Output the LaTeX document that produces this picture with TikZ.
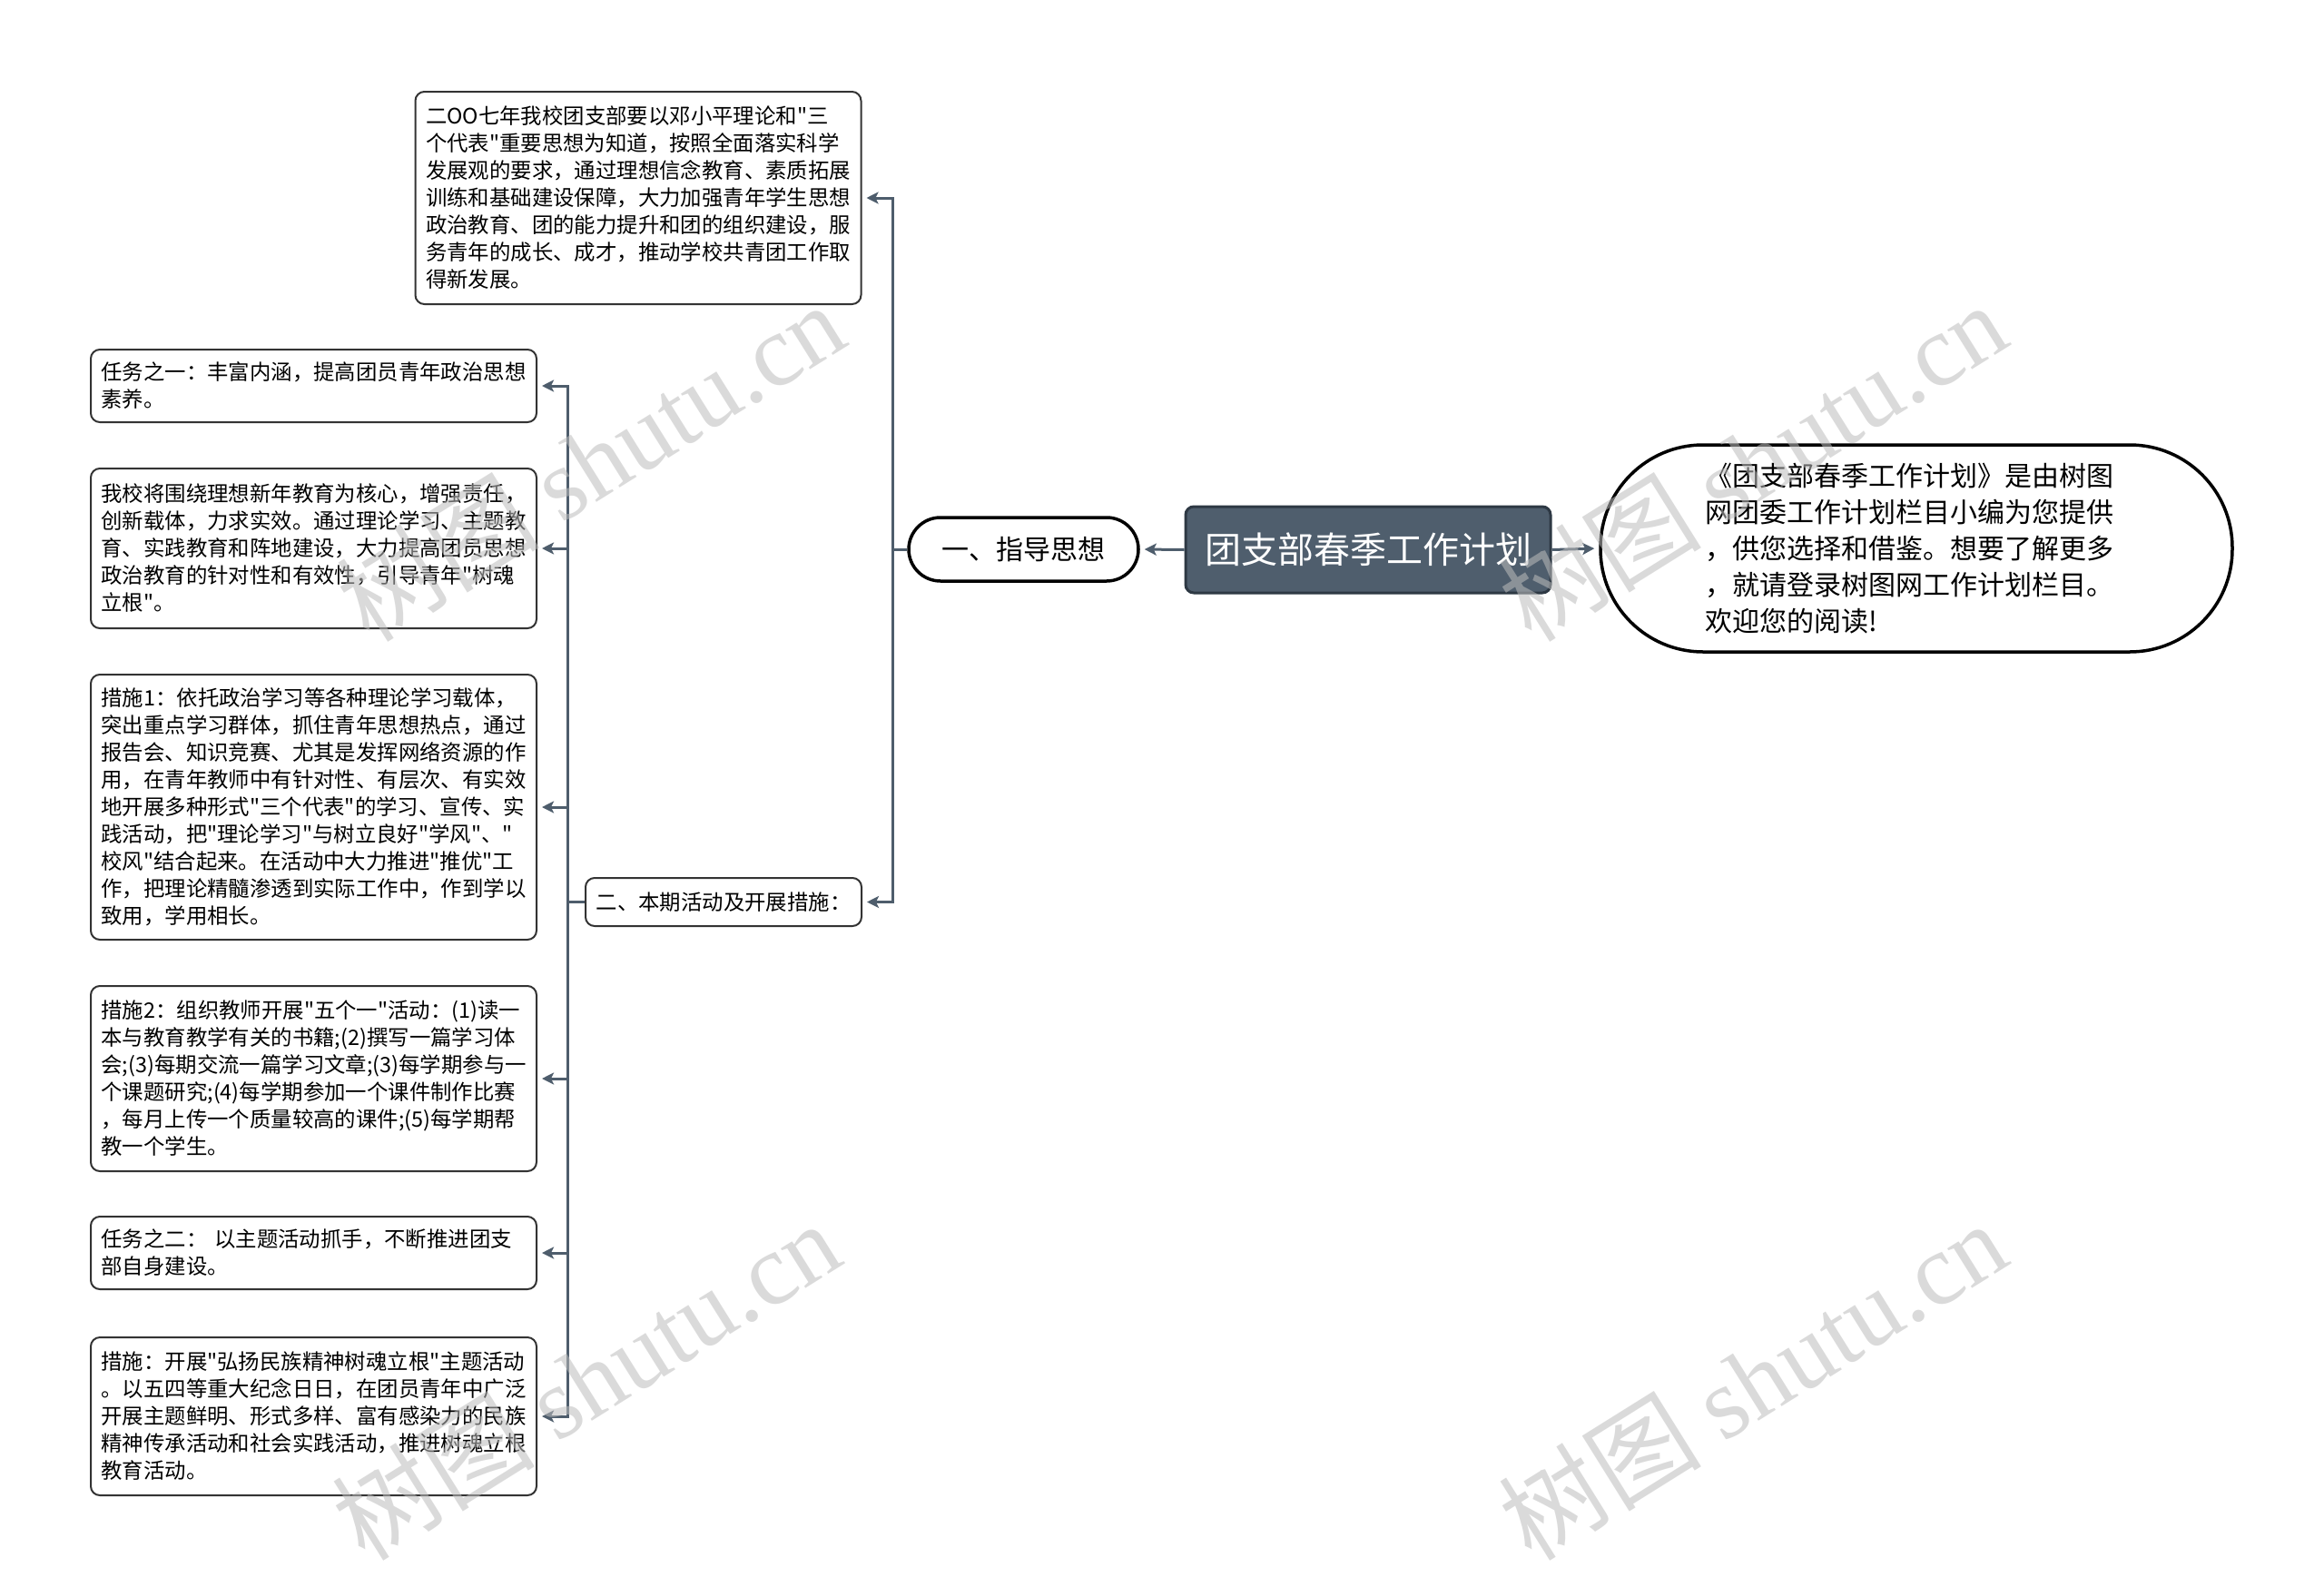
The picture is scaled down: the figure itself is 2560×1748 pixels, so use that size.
\documentclass[tikz,border=0pt]{standalone}
\usepackage{fontspec}
\setmainfont{Noto Sans CJK SC}
\newfontfamily\cjkf{Noto Sans CJK SC}
\newfontfamily\wmserif{Liberation Serif}
\usetikzlibrary{arrows.meta}
\definecolor{linec}{HTML}{4E5D6C}
\definecolor{rootfill}{HTML}{4F5E6D}
\definecolor{rootborder}{HTML}{2E3944}
\definecolor{boxc}{HTML}{333333}
\definecolor{wmc}{HTML}{BDBDBD}
\tikzset{
  conn/.style={draw=linec, line width=3pt, -{Stealth[length=13pt,width=13pt,inset=3pt]}, shorten >=5pt},
  plain/.style={draw=linec, line width=3pt},
  leaf/.style={draw=boxc, line width=2pt, rounded corners=10pt, fill=white,
    text width=468pt, inner xsep=11.5pt, inner ysep=0pt, align=left,
    font=\cjkf\fontsize{23.4}{30}\selectfont},
  rootbox/.style={draw=rootborder, line width=3pt, rounded corners=9pt, fill=rootfill,
    text=white, minimum width=402pt, minimum height=95pt, inner sep=0pt,
    font=\cjkf\fontsize{40}{48}\selectfont},
  pill/.style={draw=black, line width=3.5pt, rounded corners=35pt, fill=white,
    minimum width=253pt, minimum height=70pt, inner sep=0pt,
    font=\cjkf\fontsize{30}{36}\selectfont},
  descbox/.style={draw=black, line width=3.5pt, rounded corners=113pt, fill=white,
    minimum width=696pt, minimum height=228pt, inner sep=0pt, text width=466pt, align=left,
    font=\cjkf\fontsize{30}{40}\selectfont},
  midbox/.style={draw=boxc, line width=2pt, rounded corners=10pt, fill=white,
    minimum width=304pt, minimum height=53pt, inner sep=0pt,
    font=\cjkf\fontsize{23.4}{30}\selectfont},
  wmark/.style={text=wmc, text opacity=0.55, rotate=32, inner sep=0pt,
    font=\cjkf\fontsize{112}{120}\selectfont}
}
\begin{document}
\begin{tikzpicture}[x=1pt,y=-1pt]
\useasboundingbox[fill=white] (0,0) rectangle (2560,1748);

% central nodes
\node[rootbox] (root) at (1507,605.5) {团支部春季工作计划};
\node[pill] (zd) at (1127.5,605) {一、指导思想};
\node[descbox] (desc) at (2111,604) {《团支部春季工作计划》是由树图\\网团委工作计划栏目小编为您提供\\，供您选择和借鉴。想要了解更多\\，就请登录树图网工作计划栏目。\\欢迎您的阅读!};
\node[midbox] (er) at (797,993.5) {二、本期活动及开展措施：};

% top box
\node[leaf, minimum height=234pt] (top) at (703,218) {二OO七年我校团支部要以邓小平理论和"三\\个代表"重要思想为知道，按照全面落实科学\\发展观的要求，通过理想信念教育、素质拓展\\训练和基础建设保障，大力加强青年学生思想\\政治教育、团的能力提升和团的组织建设，服\\务青年的成长、成才，推动学校共青团工作取\\得新发展。};

% left boxes
\node[leaf, minimum height=80pt] (b1) at (345.5,425) {任务之一：丰富内涵，提高团员青年政治思想\\素养。};
\node[leaf, minimum height=176pt] (b2) at (345.5,604) {我校将围绕理想新年教育为核心，增强责任，\\创新载体，力求实效。通过理论学习、主题教\\育、实践教育和阵地建设，大力提高团员思想\\政治教育的针对性和有效性，引导青年"树魂\\立根"。};
\node[leaf, minimum height=292pt] (b3) at (345.5,889) {措施1：依托政治学习等各种理论学习载体，\\突出重点学习群体，抓住青年思想热点，通过\\报告会、知识竞赛、尤其是发挥网络资源的作\\用，在青年教师中有针对性、有层次、有实效\\地开展多种形式"三个代表"的学习、宣传、实\\践活动，把"理论学习"与树立良好"学风"、"\\校风"结合起来。在活动中大力推进"推优"工\\作，把理论精髓渗透到实际工作中，作到学以\\致用，学用相长。};
\node[leaf, minimum height=204pt] (b4) at (345.5,1188) {措施2：组织教师开展"五个一"活动：(1)读一\\本与教育教学有关的书籍;(2)撰写一篇学习体\\会;(3)每期交流一篇学习文章;(3)每学期参与一\\个课题研究;(4)每学期参加一个课件制作比赛\\，每月上传一个质量较高的课件;(5)每学期帮\\教一个学生。};
\node[leaf, minimum height=80pt] (b5) at (345.5,1380) {任务之二： 以主题活动抓手，不断推进团支\\部自身建设。};
\node[leaf, minimum height=174pt] (b6) at (345.5,1560) {措施：开展"弘扬民族精神树魂立根"主题活动\\。以五四等重大纪念日日，在团员青年中广泛\\开展主题鲜明、形式多样、富有感染力的民族\\精神传承活动和社会实践活动，推进树魂立根\\教育活动。};

% connectors
\draw[conn] (root.west) -- (zd.east);
\draw[conn] (root.east) -- (desc.west);

\coordinate (j1) at (983,605);
\draw[plain] (zd.west) -- (j1);
\draw[conn] (j1) |- (top.east);
\draw[conn] (j1) |- (er.east);

\coordinate (j2) at (625,993.5);
\draw[plain] (er.west) -- (j2);
\draw[conn] (j2) |- (b1.east);
\draw[conn] (j2) |- (b2.east);
\draw[conn] (j2) |- (b3.east);
\draw[conn] (j2) |- (b4.east);
\draw[conn] (j2) |- (b5.east);
\draw[conn] (j2) |- (b6.east);

% watermarks
\node[wmark] (w1) at (650,508) {树图 {\wmserif shutu.cn}};
\node[wmark] (w2) at (1930,508) {树图 {\wmserif shutu.cn}};
\node[wmark] (w3) at (645,1520) {树图 {\wmserif shutu.cn}};
\node[wmark] (w4) at (1930,1520) {树图 {\wmserif shutu.cn}};
\end{tikzpicture}
\end{document}
